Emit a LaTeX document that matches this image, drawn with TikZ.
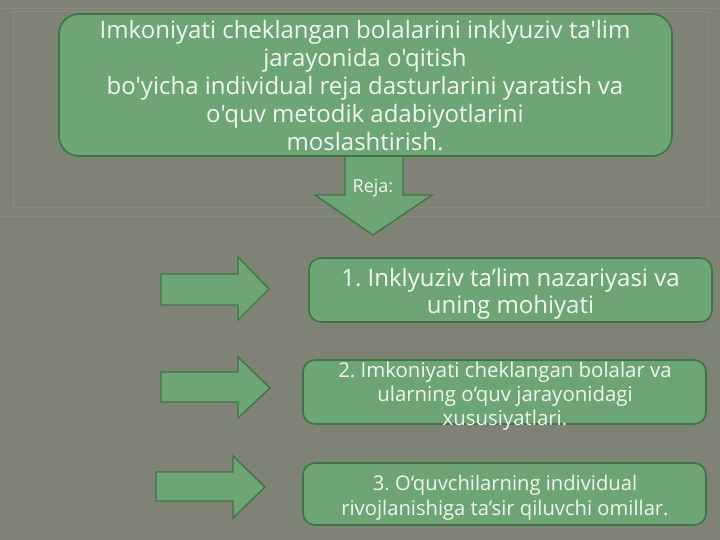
\documentclass[tikz,border=0pt]{standalone}
\usepackage{fontspec}
\setmainfont{Open Sans}[Ligatures=TeXOff]
\definecolor{bg}{HTML}{7F8375}
\definecolor{bgline}{HTML}{888C7E}
\definecolor{gfill}{HTML}{6DA576}
\definecolor{gline}{HTML}{3F7446}
\definecolor{txt}{HTML}{F2F6EE}
\frenchspacing
\begin{document}
\begin{tikzpicture}[x=1pt,y=-1pt,
  box/.style={draw=gline, line width=1.6pt, fill=gfill, rounded corners=12pt, inner sep=0pt},
  bigarrow/.style={draw=gline, line width=1.4pt, fill=gfill, line join=miter},
  lbl/.style={text=txt, align=center, inner sep=0pt}]
\fill[bg] (0,0) rectangle (720,540);
\useasboundingbox (0,0) rectangle (720,540);
% faint template frame
\draw[bgline, line width=1pt] (13,12) rectangle (707,208);
\draw[bgline, line width=0.8pt] (0,8) -- (720,8);
\draw[bgline, line width=0.8pt] (0,216) -- (720,216);
% down arrow
\draw[bigarrow] (345,150) -- (345,195) -- (315,195) -- (373,235) -- (432,195) -- (403,195) -- (403,150);
% top box
\node[box, rounded corners=20pt, minimum width=613pt, minimum height=142pt] (top) at (365.5,85) {};
\node[lbl, font=\fontsize{24}{28}\selectfont] (toptext) at (365,86)
  {Imkoniyati cheklangan bolalarini inklyuziv ta'lim\\jarayonida o'qitish\\bo'yicha individual reja dasturlarini yaratish va\\o'quv metodik adabiyotlarini\\moslashtirish.};
\node[lbl, font=\fontsize{18}{20}\selectfont] (reja) at (373,188) {Reja:};
% right arrows
\draw[bigarrow] (161,274) -- (238,274) -- (238,257) -- (269,289) -- (238,320) -- (238,305) -- (161,305) -- cycle;
\draw[bigarrow] (161,372) -- (238,372) -- (238,357) -- (270,388) -- (238,418) -- (238,402) -- (161,402) -- cycle;
\draw[bigarrow] (156,472) -- (233,472) -- (233,456) -- (265,487) -- (233,518) -- (233,501) -- (156,501) -- cycle;
% item boxes
\node[box, minimum width=403pt, minimum height=64pt] (b1) at (510.5,290) {};
\node[lbl, font=\fontsize{24}{27}\selectfont] (t1) at (510.5,294)
  {1. Inklyuziv ta’lim nazariyasi va\\uning mohiyati};
\node[box, minimum width=403pt, minimum height=64pt] (b2) at (504.5,392) {};
\node[lbl, font=\fontsize{20.4}{24}\selectfont] (t2) at (505,396)
  {2. Imkoniyati cheklangan bolalar va\\ularning o‘quv jarayonidagi\\xususiyatlari.};
\node[box, minimum width=403pt, minimum height=62pt] (b3) at (504.5,494) {};
\node[lbl, font=\fontsize{20.2}{25}\selectfont] (t3) at (505,498)
  {3. O‘quvchilarning individual\\rivojlanishiga ta’sir qiluvchi omillar.};
\end{tikzpicture}
\end{document}
